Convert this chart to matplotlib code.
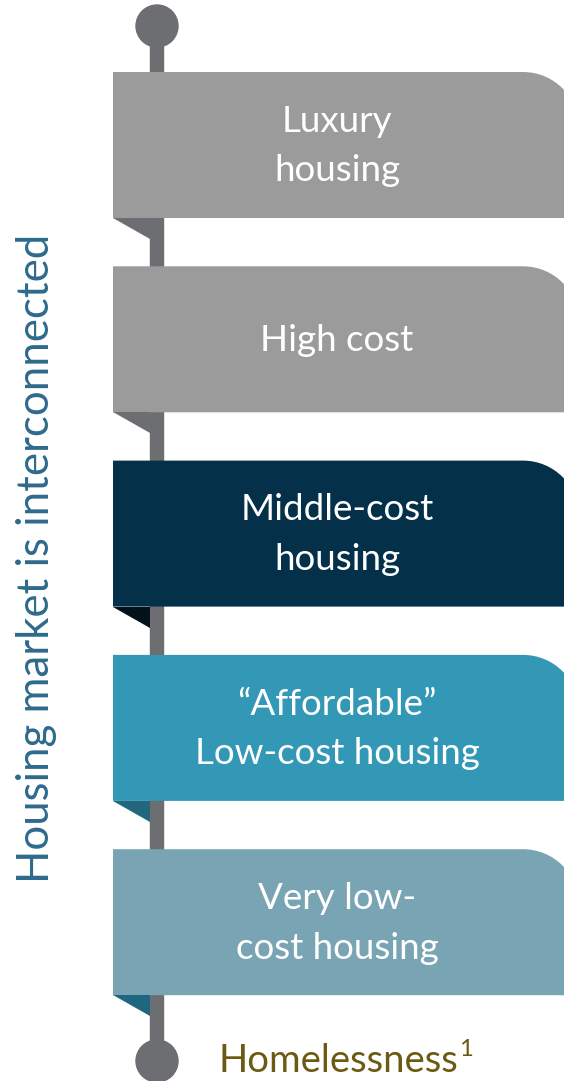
import matplotlib
matplotlib.use('Agg')
import matplotlib.pyplot as plt
from matplotlib.patches import Circle, PathPatch, Polygon, Rectangle
from matplotlib.path import Path

labels = ['Luxury\nhousing', 'High cost', 'Middle-cost\nhousing',
          '\u201cAffordable\u201d\nLow-cost housing', 'Very low-\ncost housing']
banner_colors = ['#9b9b9b', '#9b9b9b', '#043149', '#3397b6', '#79a4b3']
fold_colors = ['#6d6e72', '#6d6e72', '#03111a', '#22677e', '#1f6680']
side_label = 'Housing market is interconnected'
bottom_label = 'Homelessness'
footnote = '1'

W, H = 564, 1081
fig = plt.figure(figsize=(W / 100, H / 100), dpi=100)
ax = fig.add_axes([0, 0, 1, 1])
ax.set_xlim(0, W)
ax.set_ylim(H, 0)
ax.axis('off')

font = dict(family=['Lato', 'DejaVu Sans'], fontweight='normal')
pole_color = '#6d6e72'

# pole with round ends
ax.add_patch(Rectangle((150, 26), 13, 1037, color=pole_color, zorder=1))
ax.add_patch(Circle((157, 26), 21, color=pole_color, zorder=1))
ax.add_patch(Circle((157, 1061), 21, color=pole_color, zorder=1))

left, right, radius = 113, 579, 56
height, step, first_top = 146, 194.3, 72

for i, (lab, col, fcol) in enumerate(zip(labels, banner_colors, fold_colors)):
    top = first_top + i * step
    bot = top + height
    # banner with rounded top-right corner
    k = 0.5523 * radius
    verts = [(left, top), (right - radius, top),
             (right - radius + k, top), (right, top + radius - k), (right, top + radius),
             (right, bot), (left, bot), (left, top)]
    codes = [Path.MOVETO, Path.LINETO,
             Path.CURVE4, Path.CURVE4, Path.CURVE4,
             Path.LINETO, Path.LINETO, Path.CLOSEPOLY]
    ax.add_patch(PathPatch(Path(verts, codes), facecolor=col, edgecolor='none', zorder=2))
    # fold under the banner
    ax.add_patch(Polygon([(left, bot), (150, bot), (150, bot + 21)], closed=True,
                         facecolor=fcol, edgecolor='none', zorder=2))
    ax.text(337, top + height / 2 + 1, lab, color='white', fontsize=26.5, ha='center', va='center',
            linespacing=1.62, zorder=3, **font)

ax.text(37, 558, side_label, color='#2e6a8c', fontsize=31.5, rotation=90,
        ha='center', va='center', **font)

t = ax.text(218, 1072, bottom_label, color='#6b5a12', fontsize=27.5, ha='left',
            va='baseline', **font)
fig.canvas.draw()
bb = t.get_window_extent().transformed(ax.transData.inverted())
ax.text(bb.x1 + 1, 1056, footnote, color='#6b5a12', fontsize=17, ha='left',
        va='baseline', **font)

fig.savefig('out.png', dpi=100)
